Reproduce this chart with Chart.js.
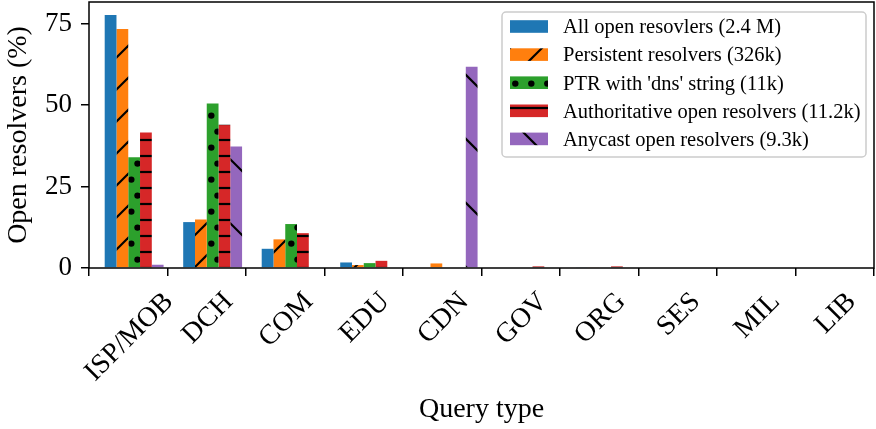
<!DOCTYPE html>
<html>
<head>
<meta charset="utf-8">
<script src="https://cdn.jsdelivr.net/npm/chart.js@4.4.0/dist/chart.umd.min.js"></script>
<style>
  body { margin: 0; background: #fff; }
</style>
</head>
<body>
<canvas id="resolverChart" width="876" height="429"></canvas>
<script>
// data (percent of open resolvers per query type)
var categories = ['ISP/MOB', 'DCH', 'COM', 'EDU', 'CDN', 'GOV', 'ORG', 'SES', 'MIL', 'LIB'];
var allOpen = [77.7, 14.1, 5.9, 1.7, 0, 0, 0.2, 0, 0, 0];
var persistent = [73.4, 14.9, 8.8, 0.9, 1.4, 0, 0.2, 0, 0, 0];
var ptrDns = [34.0, 50.5, 13.5, 1.5, 0, 0, 0, 0, 0, 0];
var authoritative = [41.6, 44.0, 10.7, 2.2, 0, 0.5, 0.5, 0, 0, 0];
var anycast = [1.0, 37.3, 0, 0, 61.8, 0, 0, 0, 0, 0];
var seriesLabels = [
    'All open resovlers (2.4 M)',
    'Persistent resolvers (326k)',
    "PTR with 'dns' string (11k)",
    'Authoritative open resolvers (11.2k)',
    'Anycast open resolvers (9.3k)'
];
var yTicks = [0, 25, 50, 75];
var yMax = 81.7;

var FONT = '"Liberation Serif", "Times New Roman", serif';

// hatch fills, anchored to the canvas origin like matplotlib hatches
function makePattern(color, kind) {
    var w = 32, h = 32;
    if (kind === 'back') { w = 64; h = 64; }
    if (kind === 'dots') { w = 16; h = 32; }
    if (kind === 'hline') { w = 16; h = 16; }
    var c = document.createElement('canvas');
    c.width = w; c.height = h;
    var g = c.getContext('2d');
    g.fillStyle = color;
    g.fillRect(0, 0, w, h);
    g.strokeStyle = '#000';
    g.fillStyle = '#000';
    g.lineWidth = 2.2;
    if (kind === 'slash') {
        [-18, 14, 46, 78].forEach(function (k) {
            g.beginPath();
            g.moveTo(k + 5, -5);
            g.lineTo(k - h - 5, h + 5);
            g.stroke();
        });
    } else if (kind === 'back') {
        [-71, -7, 57].forEach(function (k) {
            g.beginPath();
            g.moveTo(-5, k - 5);
            g.lineTo(w + 5, k + w + 5);
            g.stroke();
        });
    } else if (kind === 'hline') {
        g.fillRect(0, 12 - 1.1, w, 2.2);
    } else if (kind === 'dots') {
        g.beginPath(); g.arc(9.5, 3.6, 3.2, 0, Math.PI * 2); g.fill();
        g.beginPath(); g.arc(3.3, 19.6, 3.2, 0, Math.PI * 2); g.fill();
    }
    return g.createPattern(c, 'repeat');
}

var fills = [
    '#1f77b4',
    makePattern('#ff7f0e', 'slash'),
    makePattern('#2ca02c', 'dots'),
    makePattern('#d62728', 'hline'),
    makePattern('#9467bd', 'back')
];
var seriesData = [allOpen, persistent, ptrDns, authoritative, anycast];

var datasets = [{
    // empty slot so the bar groups sit off-centre like the original
    label: '',
    spacer: true,
    data: categories.map(function () { return null; }),
    backgroundColor: 'rgba(0,0,0,0)'
}];
seriesData.forEach(function (d, i) {
    datasets.push({
        label: seriesLabels[i],
        data: d,
        backgroundColor: fills[i],
        borderWidth: 0
    });
});

var framePlugin = {
    id: 'frame',
    afterDatasetsDraw: function (chart) {
        var a = chart.chartArea, ctx = chart.ctx;
        ctx.save();
        ctx.strokeStyle = '#000';
        ctx.lineWidth = 1.5;
        ctx.strokeRect(a.left, a.top, a.right - a.left, a.bottom - a.top);
        ctx.restore();
    }
};

// rotated category labels centred on their ticks
var xLabelPlugin = {
    id: 'xlabels',
    afterDraw: function (chart) {
        var ctx = chart.ctx, xs = chart.scales.x, a = chart.chartArea;
        ctx.save();
        ctx.font = '28px ' + FONT;
        ctx.fillStyle = '#000';
        ctx.textAlign = 'left';
        ctx.textBaseline = 'alphabetic';
        categories.forEach(function (lab, i) {
            var m = ctx.measureText(lab);
            var L = m.width;
            var asc = m.actualBoundingBoxAscent, desc = m.actualBoundingBoxDescent;
            var hgt = asc + desc;
            var ext = (L + hgt) / Math.SQRT2;
            ctx.save();
            ctx.translate(xs.getPixelForTick(i), a.bottom + 22 + ext / 2);
            ctx.rotate(-Math.PI / 4);
            ctx.fillText(lab, -L / 2, (asc - desc) / 2);
            ctx.restore();
        });
        ctx.restore();
    }
};

var legendPlugin = {
    id: 'boxLegend',
    afterDraw: function (chart) {
        var ctx = chart.ctx;
        var bx = 502, by = 12, bw = 364, bh = 145;
        ctx.save();
        ctx.beginPath();
        ctx.roundRect(bx, by, bw, bh, 4);
        ctx.fillStyle = 'rgba(255,255,255,0.85)';
        ctx.fill();
        ctx.strokeStyle = '#cccccc';
        ctx.lineWidth = 1.5;
        ctx.stroke();
        ctx.font = '20.5px ' + FONT;
        ctx.textBaseline = 'middle';
        ctx.textAlign = 'left';
        var n = 0;
        chart.data.datasets.forEach(function (ds) {
            if (ds.spacer) return;
            var cy = 26.5 + n * 28.1;
            ctx.fillStyle = ds.backgroundColor;
            ctx.fillRect(510, cy - 6.3, 38, 12.6);
            ctx.fillStyle = '#000';
            ctx.fillText(ds.label, 563, cy + 1.5);
            n++;
        });
        ctx.restore();
    }
};

var ctx = document.getElementById('resolverChart').getContext('2d');
new Chart(ctx, {
    type: 'bar',
    data: {
        labels: categories,
        datasets: datasets
    },
    options: {
        responsive: false,
        animation: false,
        events: [],
        barPercentage: 1,
        categoryPercentage: 0.9,
        layout: { padding: { top: 2, right: 2, left: 0, bottom: 0 } },
        plugins: {
            legend: { display: false },
            tooltip: { enabled: false }
        },
        scales: {
            x: {
                offset: true,
                grid: { drawOnChartArea: false, color: '#000', lineWidth: 1.5, tickLength: 8 },
                border: { display: false },
                ticks: { display: false },
                title: {
                    display: true,
                    text: 'Query type',
                    color: '#000',
                    font: { family: FONT, size: 28 },
                    padding: { top: 0, bottom: 3 }
                },
                afterFit: function (s) {
                    s.height = 161;
                    s.paddingLeft = 0;
                    s.paddingRight = 0;
                }
            },
            y: {
                min: 0,
                max: yMax,
                afterBuildTicks: function (s) {
                    s.ticks = yTicks.map(function (v) { return { value: v }; });
                },
                grid: { drawOnChartArea: false, color: '#000', lineWidth: 1.5, tickLength: 8 },
                border: { display: false },
                ticks: {
                    color: '#000',
                    font: { family: FONT, size: 27 },
                    padding: 9
                },
                title: {
                    display: true,
                    text: 'Open resolvers (%)',
                    color: '#000',
                    font: { family: FONT, size: 28 },
                    padding: { top: 2, bottom: 0 }
                },
                afterFit: function (s) {
                    s.width = 89;
                    s.paddingTop = 0;
                    s.paddingBottom = 0;
                }
            }
        }
    },
    plugins: [framePlugin, xLabelPlugin, legendPlugin]
});
</script>
</body>
</html>
